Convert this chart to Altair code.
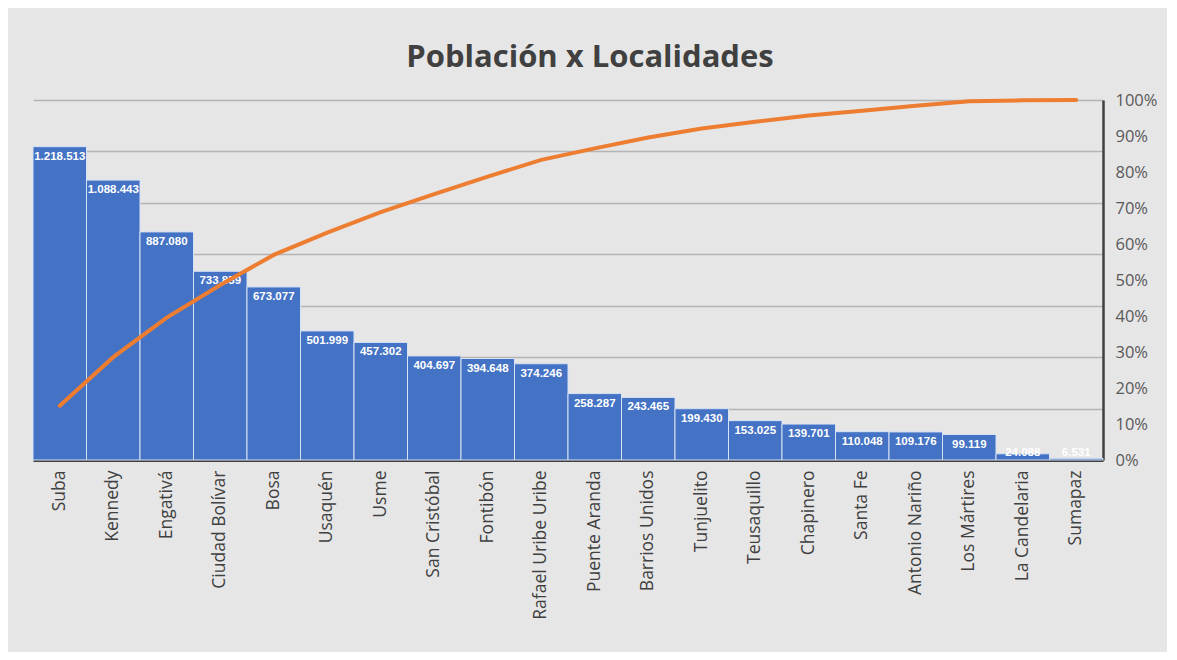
import altair as alt
import pandas as pd

localidades = ["Suba", "Kennedy", "Engativá", "Ciudad Bolívar", "Bosa", "Usaquén", "Usme",
               "San Cristóbal", "Fontibón", "Rafael Uribe Uribe", "Puente Aranda", "Barrios Unidos",
               "Tunjuelito", "Teusaquillo", "Chapinero", "Santa Fe", "Antonio Nariño",
               "Los Mártires", "La Candelaria", "Sumapaz"]
poblacion = [1218513, 1088443, 887080, 733859, 673077, 501999, 457302, 404697, 394648, 374246,
             258287, 243465, 199430, 153025, 139701, 110048, 109176, 99119, 24088, 6531]
grid_values = [0, 200000, 400000, 600000, 800000, 1000000, 1200000, 1400000]
pct_ticks = [0, 0.1, 0.2, 0.3, 0.4, 0.5, 0.6, 0.7, 0.8, 0.9, 1.0]

df = pd.DataFrame({"localidad": localidades, "poblacion": poblacion, "orden": list(range(len(localidades)))})

x = alt.X("localidad:N", sort=localidades, title=None,
          scale=alt.Scale(paddingInner=0, paddingOuter=0),
          axis=alt.Axis(labelAngle=-90, labelFontSize=17.5, labelColor="#404040", labelFont="Open Sans",
                        labelPadding=10, ticks=False, domainColor="#404040", domainWidth=3))

base = alt.Chart(df).transform_calculate(
    etiqueta="replace(format(datum.poblacion, ','), /,/g, '.')",
    ly="max(datum.poblacion, 66000)"
)

yscale = alt.Scale(domain=[0, 1400000], nice=False)
yaxis = alt.Axis(values=grid_values, labels=False, ticks=False, domain=False, grid=True,
                 gridColor="#b4b4b4", gridWidth=1.5)

bars = base.mark_bar(color="#4472C4", stroke="#d6e2f5", strokeWidth=1).encode(
    x=x,
    y=alt.Y("poblacion:Q", scale=yscale, title=None, axis=yaxis),
)

labels = base.mark_text(color="white", fontSize=11.5, fontWeight="bold", font="Liberation Sans",
                        baseline="top", dy=4, align="center").encode(
    x=x,
    y=alt.Y("ly:Q", scale=yscale, title=None, axis=yaxis),
    text="etiqueta:N",
)

line = base.transform_window(
    acum="sum(poblacion)", sort=[alt.SortField("orden")], frame=[None, 0]
).transform_joinaggregate(
    total="sum(poblacion)"
).transform_calculate(
    pct="datum.acum / datum.total"
).mark_line(color="#ED7D31", strokeWidth=4, strokeCap="round").encode(
    x=x,
    y=alt.Y("pct:Q", scale=alt.Scale(domain=[0, 1], nice=False), title=None,
            axis=alt.Axis(orient="right", values=pct_ticks, format=".0%", labelFontSize=16.5,
                          labelColor="#595959", labelFont="Open Sans", labelPadding=12,
                          ticks=False, grid=False, domainColor="#404040", domainWidth=2.5)),
    order="orden:Q",
)

chart = alt.layer(alt.layer(bars, labels), line).resolve_scale(y="independent").properties(
    width=1070, height=360,
    autosize=alt.AutoSizeParams(type="none"),
    padding={"left": 25, "top": 92, "right": 64, "bottom": 192},
    background="#e6e6e6",
    title=alt.TitleParams("Población x Localidades", fontSize=31, font="Open Sans", fontWeight="bold",
                          color="#404040", anchor="middle", offset=18, dx=22),
).configure_view(stroke=None)

chart.save("out.html", embed_options={"renderer": "svg", "actions": False})
